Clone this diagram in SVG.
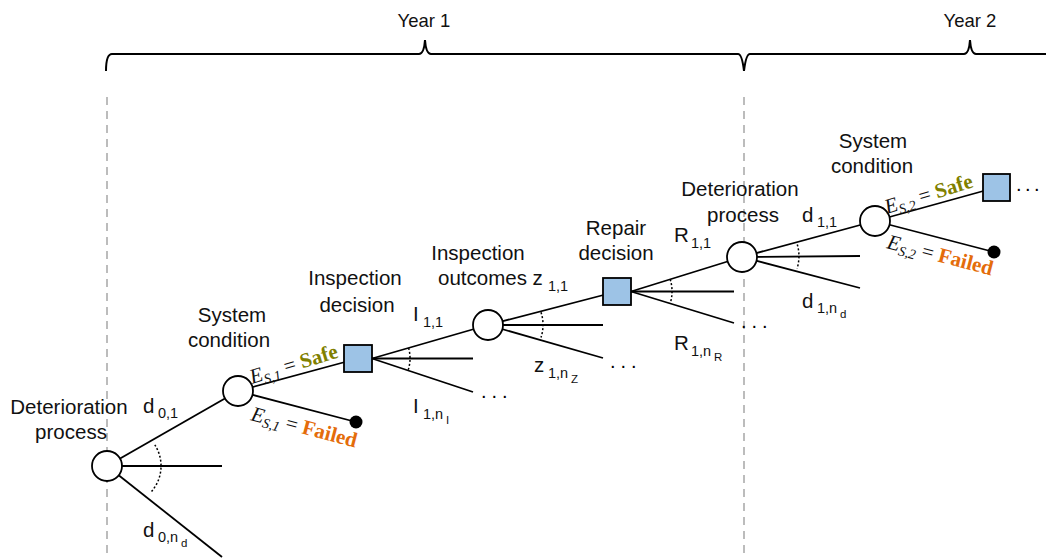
<svg xmlns="http://www.w3.org/2000/svg" width="1046" height="558" viewBox="0 0 1046 558">
  <style>
    .lbl { font-family: "Liberation Sans", Arial, sans-serif; font-size: 20.5px; fill: #111; }
    .mid { text-anchor: middle; }
    .sub { font-size: 14.5px; }
    .sub2 { font-size: 11.5px; }
    .yr { font-family: "Liberation Sans", Arial, sans-serif; font-size: 18.5px; fill: #111; text-anchor: middle; }
    .ev { font-family: "Liberation Serif", "Times New Roman", serif; font-size: 21px; fill: #111; }
    .it { font-style: italic; }
    .safe { font-weight: bold; fill: #808000; }
    .failed { font-weight: bold; fill: #E46C0A; }
    .edge { stroke: #000; stroke-width: 1.8; fill: none; }
    .arc { stroke: #000; stroke-width: 1.5; fill: none; stroke-dasharray: 2 2; }
    .chance { fill: #fff; stroke: #000; stroke-width: 1.8; }
    .decide { fill: #9DC3E6; stroke: #000; stroke-width: 1.8; }
    .end { fill: #000; }
    .guide { stroke: #a6a6a6; stroke-width: 1.5; stroke-dasharray: 8 6; }
    .brace { stroke: #000; stroke-width: 2; fill: none; }
    .dots { font-family: "Liberation Sans", Arial, sans-serif; font-size: 20px; fill: #000; letter-spacing: 5px; }
  </style>

  <!-- year boundaries -->
  <g id="timeline">
    <line class="guide" x1="107" y1="97" x2="107" y2="558"/>
    <line class="guide" x1="744" y1="97" x2="744" y2="558"/>
    <path class="brace" d="M106 71 Q106 54 112 54 H419 Q424 54 425 40 Q426 54 431 54 H738 Q742 54 744 71"/>
    <path class="brace" d="M744 71 Q746 54 750 54 H964 Q969 54 970 40 Q971 54 976 54 H1046"/>
    <text class="yr" x="424" y="27">Year 1</text>
    <text class="yr" x="970" y="27">Year 2</text>
  </g>

  <!-- branches and angle marks -->
  <g id="connectors">
    <line class="edge" x1="107" y1="466" x2="238" y2="391"/>
    <line class="edge" x1="107" y1="466" x2="222" y2="466"/>
    <line class="edge" x1="107" y1="466" x2="222" y2="557"/>
    <path class="arc" d="M154.8 444.8 A39 39 0 0 1 150.9 492.2"/>

    <line class="edge" x1="238" y1="391" x2="358" y2="358.5"/>
    <line class="edge" x1="238" y1="391" x2="356" y2="422"/>

    <line class="edge" x1="372" y1="358.5" x2="488" y2="325"/>
    <line class="edge" x1="372" y1="358.5" x2="473" y2="358.5"/>
    <line class="edge" x1="372" y1="358.5" x2="473" y2="392"/>
    <path class="arc" d="M408.6 348 A38 38 0 0 1 408 370.6"/>

    <line class="edge" x1="488" y1="325" x2="617" y2="291.5"/>
    <line class="edge" x1="488" y1="325" x2="603" y2="325"/>
    <line class="edge" x1="488" y1="325" x2="603" y2="358"/>
    <path class="arc" d="M541 312.3 A40 40 0 0 1 541 337.5"/>

    <line class="edge" x1="631" y1="291.5" x2="742" y2="257"/>
    <line class="edge" x1="631" y1="291.5" x2="734" y2="291.5"/>
    <line class="edge" x1="631" y1="291.5" x2="734" y2="323"/>
    <path class="arc" d="M670.2 279.3 A41 41 0 0 1 670.2 303.5"/>

    <line class="edge" x1="742" y1="257" x2="875" y2="221"/>
    <line class="edge" x1="742" y1="257" x2="860" y2="256"/>
    <line class="edge" x1="742" y1="257" x2="860" y2="288"/>
    <path class="arc" d="M797.3 244.5 A42 42 0 0 1 797.1 268.5"/>

    <line class="edge" x1="875" y1="221" x2="996" y2="187.5"/>
    <line class="edge" x1="875" y1="221" x2="994" y2="252"/>
  </g>

  <!-- year 1: deterioration -->
  <g id="deterioration-0">
    <circle class="chance" cx="107" cy="466" r="15"/>
    <text class="lbl mid" x="69" y="414">Deterioration</text>
    <text class="lbl mid" x="71" y="439">process</text>
    <text class="lbl" x="143" y="413">d<tspan class="sub" x="158" y="418">0,1</tspan></text>
    <text class="lbl" x="143" y="537">d<tspan class="sub" x="158" y="542">0,n</tspan><tspan class="sub2" x="181" y="547">d</tspan></text>
  </g>

  <!-- year 1: system condition -->
  <g id="condition-1">
    <circle class="chance" cx="238" cy="391" r="15"/>
    <text class="lbl mid" x="232" y="322">System</text>
    <text class="lbl mid" x="229" y="347">condition</text>
    <text class="ev" transform="translate(252 384) rotate(-17)"><tspan class="it">E</tspan><tspan class="it" font-size="14" dy="4">S,1</tspan><tspan dy="-4"> = </tspan><tspan class="safe">Safe</tspan></text>
    <text class="ev" transform="translate(250 420) rotate(14.7)"><tspan class="it">E</tspan><tspan class="it" font-size="14" dy="4">S,1</tspan><tspan dy="-4"> = </tspan><tspan class="failed">Failed</tspan></text>
  </g>
  <g id="failed-1">
    <circle class="end" cx="356" cy="422" r="6.5"/>
  </g>

  <!-- year 1: inspection decision -->
  <g id="inspection-decision">
    <rect class="decide" x="344" y="345" width="28" height="27"/>
    <text class="lbl mid" x="355" y="285">Inspection</text>
    <text class="lbl mid" x="357" y="312">decision</text>
    <text class="lbl" x="413" y="321">I<tspan class="sub" x="423" y="327">1,1</tspan></text>
    <text class="lbl" x="413" y="413">I<tspan class="sub" x="423" y="419">1,n</tspan><tspan class="sub2" x="446" y="424">I</tspan></text>
    <text class="dots" x="481" y="398">...</text>
  </g>

  <!-- year 1: inspection outcomes -->
  <g id="inspection-outcomes">
    <circle class="chance" cx="488" cy="325" r="15"/>
    <text class="lbl mid" x="478" y="260">Inspection</text>
    <text class="lbl" x="438" y="285">outcomes z<tspan class="sub" x="548" y="291">1,1</tspan></text>
    <text class="lbl" x="534" y="372">z<tspan class="sub" x="548" y="378">1,n</tspan><tspan class="sub2" x="571" y="383">Z</tspan></text>
    <text class="dots" x="610" y="368">...</text>
  </g>

  <!-- year 1: repair decision -->
  <g id="repair-decision">
    <rect class="decide" x="603" y="278" width="28" height="27"/>
    <text class="lbl mid" x="616" y="235">Repair</text>
    <text class="lbl mid" x="616" y="260">decision</text>
    <text class="lbl" x="674" y="242">R<tspan class="sub" x="691" y="248">1,1</tspan></text>
    <text class="lbl" x="674" y="350">R<tspan class="sub" x="691" y="356">1,n</tspan><tspan class="sub2" x="714" y="361">R</tspan></text>
    <text class="dots" x="741" y="328">...</text>
  </g>

  <!-- year 2: deterioration -->
  <g id="deterioration-1">
    <circle class="chance" cx="742" cy="257" r="15"/>
    <text class="lbl mid" x="740" y="196">Deterioration</text>
    <text class="lbl mid" x="743" y="222">process</text>
    <text class="lbl" x="802" y="222">d<tspan class="sub" x="817" y="227">1,1</tspan></text>
    <text class="lbl" x="802" y="308">d<tspan class="sub" x="817" y="313">1,n</tspan><tspan class="sub2" x="840" y="318">d</tspan></text>
  </g>

  <!-- year 2: system condition -->
  <g id="condition-2">
    <circle class="chance" cx="875" cy="221" r="15"/>
    <text class="lbl mid" x="873" y="148">System</text>
    <text class="lbl mid" x="872" y="173">condition</text>
    <text class="ev" transform="translate(887 214) rotate(-17.2)"><tspan class="it">E</tspan><tspan class="it" font-size="14" dy="4">S,2</tspan><tspan dy="-4"> = </tspan><tspan class="safe">Safe</tspan></text>
    <text class="ev" transform="translate(886 248) rotate(14.6)"><tspan class="it">E</tspan><tspan class="it" font-size="14" dy="4">S,2</tspan><tspan dy="-4"> = </tspan><tspan class="failed">Failed</tspan></text>
  </g>
  <g id="failed-2">
    <circle class="end" cx="994" cy="252" r="6.5"/>
  </g>

  <!-- year 2: next decision -->
  <g id="decision-2">
    <rect class="decide" x="983" y="174" width="27" height="27"/>
    <text class="dots" x="1016" y="191" style="letter-spacing:3.5px">...</text>
  </g>
</svg>
